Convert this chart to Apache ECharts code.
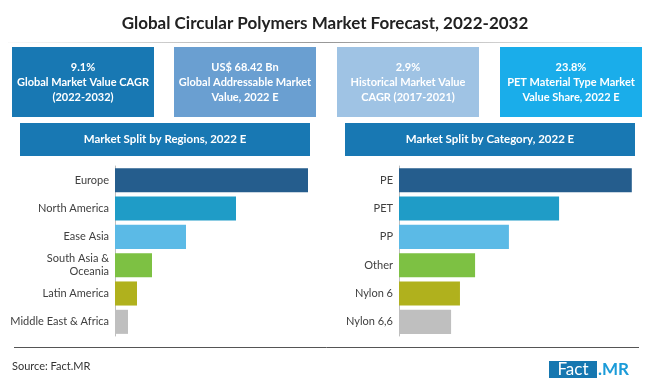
<!DOCTYPE html>
<html>
<head>
<meta charset="utf-8">
<script src="https://cdn.jsdelivr.net/npm/echarts@6/dist/echarts.min.js"></script>
<style>
html,body{margin:0;padding:0;background:#fff;}
#chart{width:650px;height:381px;}
</style>
</head>
<body>
<div id="chart"></div>
<script>
const titleText = 'Global Circular Polymers Market Forecast, 2022-2032';
const kpiValues = ['9.1%', 'US$ 68.42 Bn', '2.9%', '23.8%'];
const kpiLabels = ['Global Market Value CAGR\n(2022-2032)', 'Global Addressable Market\nValue, 2022 E', 'Historical Market Value\nCAGR (2017-2021)', 'PET Material Type Market\nValue Share, 2022 E'];
const panelTitles = ['Market Split by Regions, 2022 E', 'Market Split by Category, 2022 E'];
const regions = ['Europe', 'North America', 'Ease Asia', 'South Asia &\nOceania', 'Latin America', 'Middle East & Africa'];
const regionValues = [96.5, 60.5, 35.5, 18.5, 11, 6.5];
const categories = ['PE', 'PET', 'PP', 'Other', 'Nylon 6', 'Nylon 6,6'];
const categoryValues = [97, 66.7, 45.8, 31.7, 25.4, 21.7];
const sourceText = 'Source: Fact.MR';

const FONT = 'Lato, "Open Sans", sans-serif';
const barColors = ['#255d8d', '#1f9cc7', '#5bbae6', '#7dc143', '#b0b11d', '#bfbfbf'];
const kpiColors = ['#1878b3', '#6a9fd1', '#9fc3e4', '#1aadea'];
const kpiX = [12, 174, 337, 500];

const chart = echarts.init(document.getElementById('chart'), null, {renderer: 'canvas'});

const graphics = [];
// title separator (fading at both ends)
graphics.push({type: 'rect', shape: {x: 8, y: 42, width: 634, height: 1},
  style: {fill: new echarts.graphic.LinearGradient(0, 0, 1, 0, [
    {offset: 0, color: 'rgba(150,150,150,0.05)'},
    {offset: 0.5, color: 'rgba(140,140,140,0.9)'},
    {offset: 1, color: 'rgba(150,150,150,0.05)'}
  ])}, silent: true});
kpiX.forEach((x, i) => {
  graphics.push({type: 'rect', shape: {x: x, y: 47, width: 142, height: 70}, style: {fill: kpiColors[i]}, silent: true});
  graphics.push({type: 'text', x: x + 71, y: 82, style: {text: kpiValues[i] + '\n' + kpiLabels[i], fill: '#ffffff', font: 'bold 11px ' + FONT, align: 'center', verticalAlign: 'middle', lineHeight: 15}, silent: true});
});
[[20, 290], [345, 290]].forEach((p, i) => {
  graphics.push({type: 'rect', shape: {x: p[0], y: 123, width: p[1], height: 33}, style: {fill: '#1878b3'}, silent: true});
  graphics.push({type: 'text', x: p[0] + p[1] / 2, y: 139.5, style: {text: panelTitles[i], fill: '#ffffff', font: 'bold 11.5px ' + FONT, align: 'center', verticalAlign: 'middle'}, silent: true});
});
// footer
graphics.push({type: 'line', shape: {x1: 14, y1: 347.5, x2: 639, y2: 347.5}, style: {stroke: '#555555', lineWidth: 1}, silent: true});
graphics.push({type: 'text', x: 12, y: 366, style: {text: sourceText, fill: '#333333', font: '11px ' + FONT, align: 'left', verticalAlign: 'middle'}, silent: true});
graphics.push({type: 'rect', shape: {x: 549, y: 361, width: 48, height: 17}, style: {fill: '#1677b0'}, silent: true});
graphics.push({type: 'text', x: 573, y: 370, style: {text: 'Fact', fill: '#ffffff', font: '17px ' + FONT, align: 'center', verticalAlign: 'middle'}, silent: true});
graphics.push({type: 'text', x: 598, y: 370, style: {text: '.MR', fill: '#1b9bd8', font: 'bold 17px ' + FONT, align: 'left', verticalAlign: 'middle'}, silent: true});

function catAxis(idx, cats) {
  return {
    type: 'category', gridIndex: idx, data: cats, inverse: true,
    axisLine: {show: true, lineStyle: {color: '#bfbfbf', width: 1}},
    axisTick: {show: false},
    axisLabel: {color: '#404040', fontFamily: FONT, fontSize: 11, margin: 6, lineHeight: 13, align: 'right'}
  };
}
function valAxis(idx) {
  return {type: 'value', gridIndex: idx, min: 0, max: 100, show: false, splitLine: {show: false}};
}
function barSeries(idx, vals) {
  return {
    type: 'bar', xAxisIndex: idx, yAxisIndex: idx, barCategoryGap: '15%', silent: true,
    data: vals.map((v, i) => ({value: v, itemStyle: {color: barColors[i]}}))
  };
}

chart.setOption({
  backgroundColor: '#ffffff',
  animation: false,
  title: {text: titleText, left: 'center', top: 10, textStyle: {fontFamily: FONT, fontWeight: 'bold', fontSize: 17, color: '#222222'}},
  grid: [
    {left: 115, top: 166, width: 200, height: 170},
    {left: 399, top: 166, width: 240, height: 170}
  ],
  xAxis: [valAxis(0), valAxis(1)],
  yAxis: [catAxis(0, regions), catAxis(1, categories)],
  series: [barSeries(0, regionValues), barSeries(1, categoryValues)],
  graphic: graphics
});
</script>
</body>
</html>
